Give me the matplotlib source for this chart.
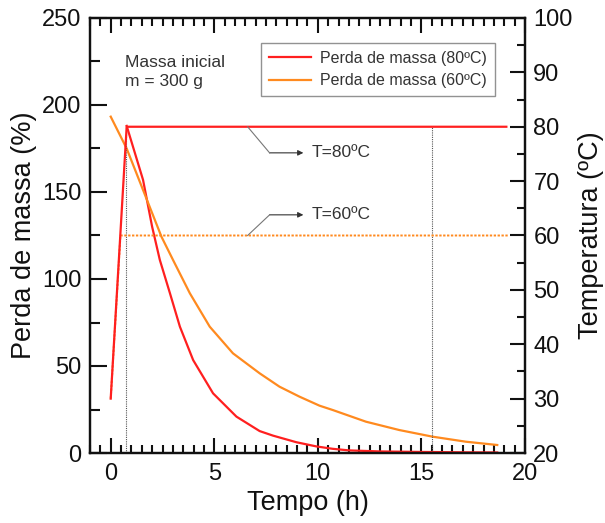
import matplotlib
matplotlib.use("Agg")
import matplotlib.pyplot as plt
from matplotlib.ticker import MultipleLocator

plt.rcParams['font.family'] = ['Liberation Sans', 'DejaVu Sans']

# ---- data ----
t_mass80 = [0.77, 1.56, 2.0, 2.37, 2.86, 3.34, 3.98, 4.94, 6.07, 7.19, 7.83,
            8.96, 9.92, 10.72, 11.5, 13.0, 15.0, 17.0, 18.66]
mass80 = [188, 157, 130, 111, 91.8, 72.6, 53.4, 34.3, 20.9, 12.6, 10.0,
          6.2, 3.8, 2.4, 1.5, 0.9, 0.6, 0.4, 0.3]

t_mass60 = [0.0, 0.77, 1.5, 2.45, 3.01, 3.82, 4.78, 5.9, 7.19, 8.15, 9.11,
            10.08, 10.72, 12.32, 13.93, 15.53, 17.14, 18.66]
mass60 = [193.3, 175, 153, 124.3, 110.9, 91.8, 72.6, 57.3, 45.8, 38.1, 32.4,
          27.2, 24.7, 18.0, 13.2, 9.4, 6.5, 4.6]

t_temp80 = [0.0, 0.77, 19.1]
temp80 = [30, 80, 80]
t_temp60 = [0.0, 0.47, 19.2]
temp60 = [30, 60, 60]

mark_times = [0.75, 15.5]

x_ticks = [0, 5, 10, 15, 20]
left_ticks = [0, 50, 100, 150, 200, 250]
right_ticks = [20, 30, 40, 50, 60, 70, 80, 90, 100]

legend_labels = ["Perda de massa (80ºC)", "Perda de massa (60ºC)"]
note_text = "Massa inicial\nm = 300 g"

RED = '#ff1f1f'
ORANGE = '#ff8a1f'

fig = plt.figure(figsize=(6.05, 5.23), dpi=100)
ax = fig.add_axes([90/605, 1-453/523, 435/605, 435/523])
ax2 = ax.twinx()

# temperature curves (right axis)
ax2.plot(t_temp60, temp60, color=ORANGE, lw=1.4, ls=(0, (1.2, 0.8)), zorder=2)
ax2.plot(t_temp80, temp80, color=RED, lw=1.6, zorder=3)
ax2.vlines(mark_times, 20, temp80[-1], colors='#555555', linestyles=(0, (1, 1)), lw=0.8, zorder=1)

# mass curves (left axis)
l80, = ax.plot(t_mass80, mass80, color=RED, lw=1.6)
l60, = ax.plot(t_mass60, mass60, color=ORANGE, lw=1.6)

ax.set_xlim(-1, 20)
ax.set_ylim(0, 250)
ax2.set_ylim(20, 100)

ax.set_xticks(x_ticks)
ax.set_yticks(left_ticks)
ax2.set_yticks(right_ticks)
ax.xaxis.set_minor_locator(MultipleLocator(0.5))
ax.yaxis.set_minor_locator(MultipleLocator(25))
ax2.yaxis.set_minor_locator(MultipleLocator(5))

for a in (ax, ax2):
    for s in a.spines.values():
        s.set_linewidth(1.6)
        s.set_color('#111111')

ax.tick_params(axis='x', which='both', direction='in', top=True, bottom=True,
               labelsize=17, pad=7, width=1.5, colors='#111111')
ax.tick_params(axis='x', which='major', length=11)
ax.tick_params(axis='x', which='minor', length=6)
ax.tick_params(axis='y', which='both', direction='in', left=True, right=False,
               labelsize=17, pad=6, width=1.5, colors='#111111')
ax.tick_params(axis='y', which='major', length=12)
ax.tick_params(axis='y', which='minor', length=7)
ax2.tick_params(axis='y', which='both', direction='in', right=True,
                labelsize=17, pad=6, width=1.5, colors='#111111')
ax2.tick_params(axis='y', which='major', length=11)
ax2.tick_params(axis='y', which='minor', length=6)

ax.set_xlabel("Tempo (h)", fontsize=19.5, color='#111111')
ax.set_ylabel("Perda de massa (%)", fontsize=19.5, color='#111111')
ax2.set_ylabel("Temperatura (ºC)", fontsize=19.5, color='#111111')
ax.xaxis.set_label_coords(0.5, -0.115)
ax.yaxis.set_label_coords(-0.152, 0.5)
ax2.yaxis.set_label_coords(1.152, 0.5)
for lab in (ax.xaxis.label, ax.yaxis.label, ax2.yaxis.label):
    lab.set_va('center')
    lab.set_ha('center')

leg = ax.legend([l80, l60], legend_labels, loc='upper right',
                bbox_to_anchor=(0.931, 0.9425), borderaxespad=0,
                fontsize=11.5, frameon=True, fancybox=False,
                handlelength=2.6, handletextpad=0.6, borderpad=0.5,
                labelspacing=0.45, labelcolor='#333333')
leg.get_frame().set_edgecolor('#777777')
leg.get_frame().set_linewidth(1.0)

ax.text(0.08, 0.915, note_text, transform=ax.transAxes, fontsize=12.5,
        color='#333333', va='top', ha='left', linespacing=1.3)

# annotations
ax2.plot([6.61, 7.67], [80, 75.2], color='#777777', lw=0.8, zorder=4)
ax2.annotate("", xy=(9.3, 75.2), xytext=(7.67, 75.2),
             arrowprops=dict(arrowstyle='-|>', color='#333333', lw=0.8,
                             mutation_scale=8, shrinkA=0, shrinkB=0))
ax2.text(9.7, 75.2, "T=80ºC", fontsize=12.5, color='#333333', va='center', ha='left')
ax2.plot([6.61, 7.67], [60, 63.8], color='#777777', lw=0.8, zorder=4)
ax2.annotate("", xy=(9.3, 63.8), xytext=(7.67, 63.8),
             arrowprops=dict(arrowstyle='-|>', color='#333333', lw=0.8,
                             mutation_scale=8, shrinkA=0, shrinkB=0))
ax2.text(9.7, 63.8, "T=60ºC", fontsize=12.5, color='#333333', va='center', ha='left')

fig.savefig("out.png", dpi=100)
